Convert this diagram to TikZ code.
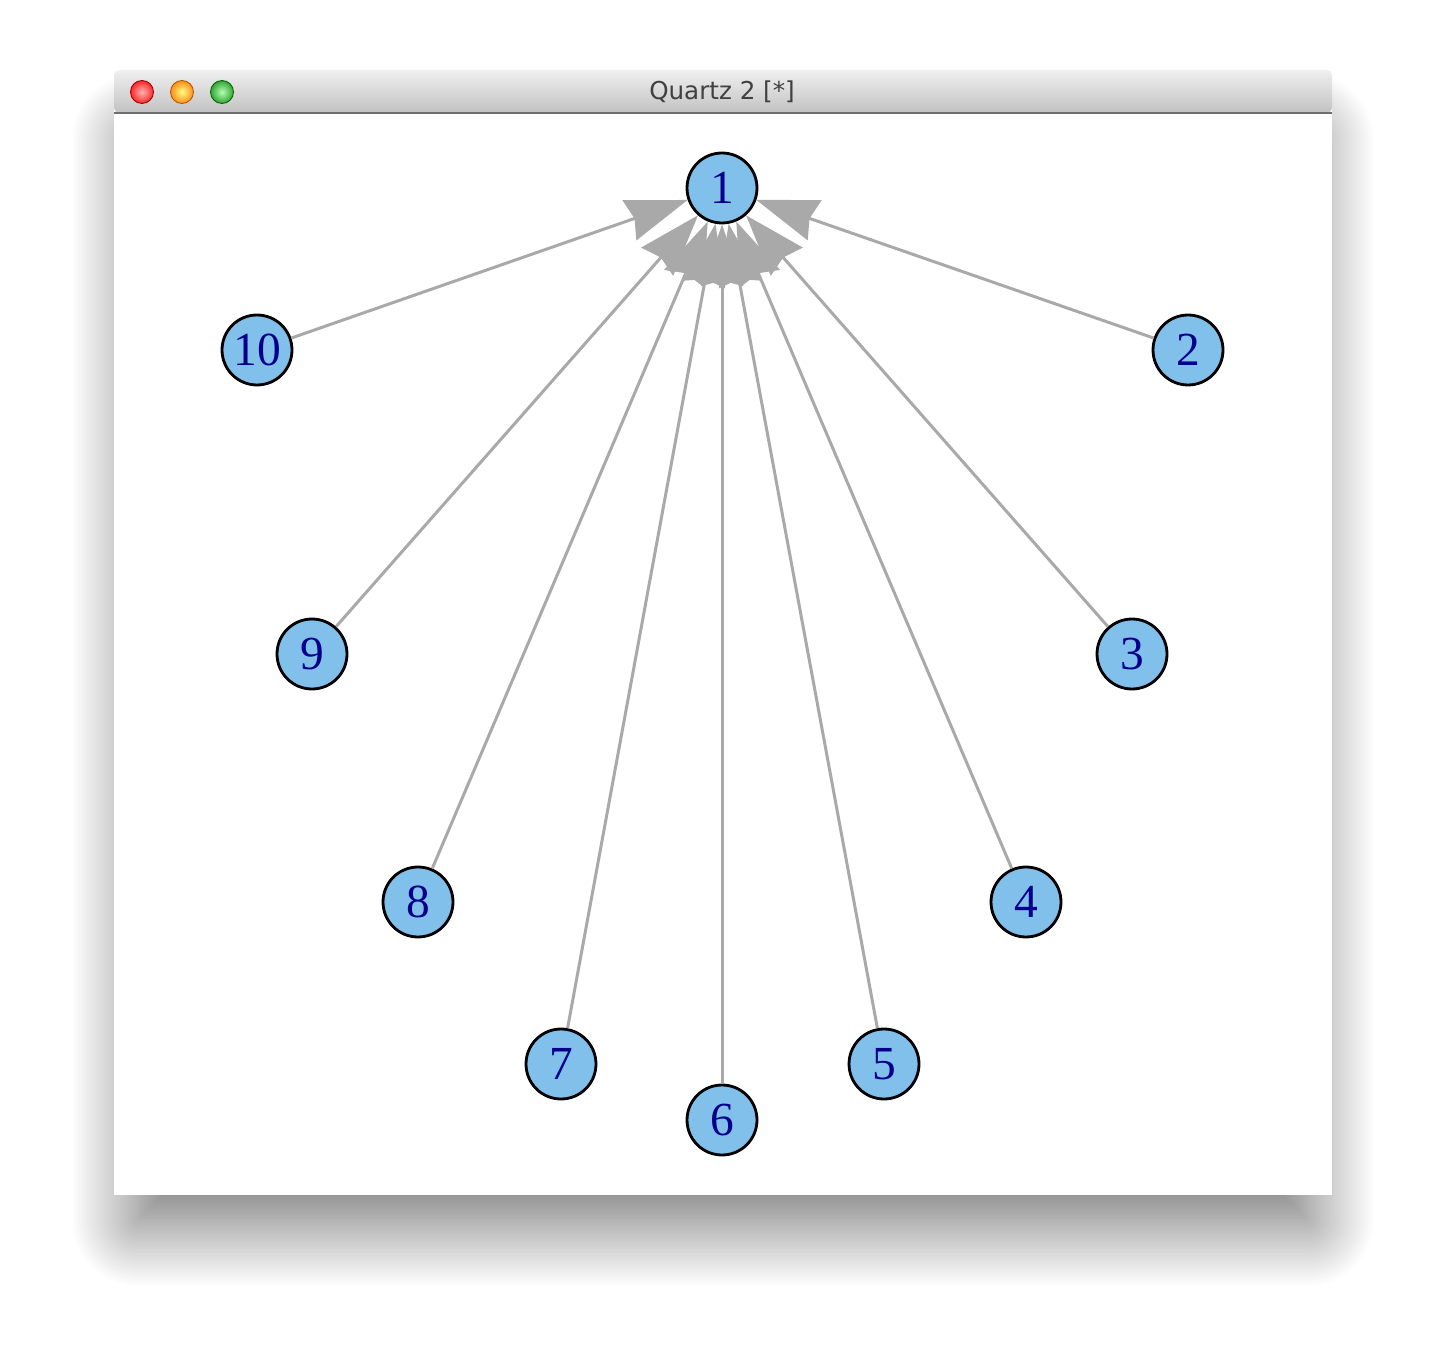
\documentclass[tikz,border=0pt]{standalone}
\usepackage{fontspec}
\setmainfont{Liberation Serif}
\newfontfamily\titlefont{DejaVu Sans}
\usetikzlibrary{arrows.meta}
\usetikzlibrary{shadows.blur}
\usetikzlibrary{math}

\definecolor{vertexfill}{HTML}{82C0EC}
\definecolor{labelblue}{HTML}{00008B}
\definecolor{edgegray}{HTML}{A9A9A9}
\definecolor{barline}{HTML}{6E6E6E}

\begin{document}
\begin{tikzpicture}[
  x=0.02cm, y=-0.02cm,
  vertex/.style={circle, draw=black, line width=1.6pt, fill=vertexfill,
    minimum size=1.4cm, inner sep=0pt, text=labelblue,
    font=\fontsize{27}{27}\selectfont},
  edge/.style={draw=edgegray, line width=1.7pt,
    -{Stealth[length=35pt, width=24pt, inset=3pt]}},
  light/.style={circle, minimum size=0.46cm, inner sep=0pt, line width=0.5pt},
  ]

  \tikzmath{
    \winleft   = 114;  % window left
    \winright  = 1332; % window right
    \wintop    = 70;   % window top
    \winbottom = 1195; % window bottom
    \barbottom = 113;  % bottom of title bar
  }

  \useasboundingbox (0,0) rectangle (1446,1354);

  % Window with its shadow
  \fill[white, blur shadow={shadow xshift=0pt, shadow yshift=-28pt,
      shadow blur radius=40pt, shadow blur steps=50, shadow opacity=60,
      shadow scale=0.96}]
    (\winleft,\wintop) rectangle (\winright,\winbottom);

  % Title bar
  \shade[top color=black!6, bottom color=black!24, rounded corners=3pt]
    (\winleft,\barbottom) -- (\winleft,\wintop) -- (\winright,\wintop) -- (\winright,\barbottom) -- cycle;
  \draw[barline, line width=1.2pt] (\winleft,\barbottom) -- (\winright,\barbottom);
  \node[font=\titlefont\fontsize{14}{14}\selectfont, text=black!75] (title) at (722,92) {Quartz 2 [*]};

  % Window buttons
  \node[light, draw=red!60!black, inner color=red!30!white, outer color=red!85] (close) at (142,92) {};
  \node[light, draw=orange!70!black, inner color=yellow!50!white, outer color=orange!90] (minimise) at (182,92) {};
  \node[light, draw=green!40!black, inner color=green!30!white, outer color=green!55!black!80!white] (zoom) at (222,92) {};

  % Vertices
  \node[vertex] (n1) at (722,188) {1};
  \foreach \i/\x/\y in {2/1188/350, 3/1132/654, 4/1026/902, 5/884/1064,
      6/722/1120, 7/561/1064, 8/418/902, 9/312/654, 10/257/350}
    \node[vertex] (n\i) at (\x,\y) {\i};

  % Edges, all pointing to vertex 1
  \foreach \i in {2,...,10}
    \draw[edge] (n\i) -- (n1);

\end{tikzpicture}
\end{document}
